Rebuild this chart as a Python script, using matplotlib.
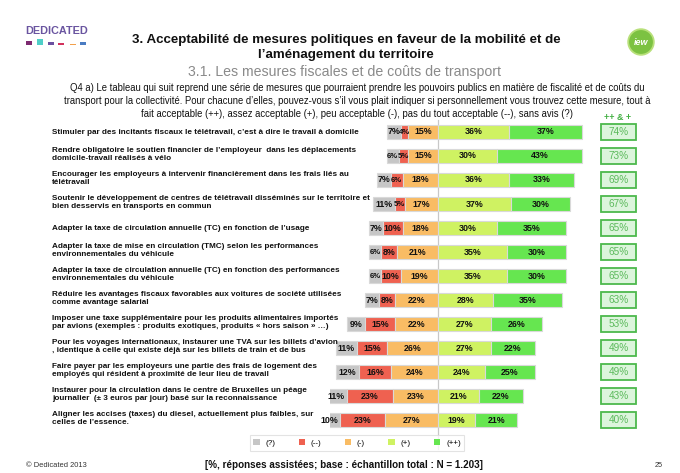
import matplotlib
matplotlib.use("Agg")
import matplotlib.pyplot as plt
from matplotlib.patches import Rectangle, Circle
import numpy as np

W, H = 680, 473

labels = [
    "Stimuler par des incitants fiscaux le télétravail, c’est à dire le travail à domicile",
    "Rendre obligatoire le soutien financier de l’employeur  dans les déplacements\ndomicile-travail réalisés à vélo",
    "Encourager les employeurs à intervenir financièrement dans les frais liés au\ntélétravail",
    "Soutenir le développement de centres de télétravail disséminés sur le territoire et\nbien desservis en transports en commun",
    "Adapter la taxe de circulation annuelle (TC) en fonction de l’usage",
    "Adapter la taxe de mise en circulation (TMC) selon les performances\nenvironnementales du véhicule",
    "Adapter la taxe de circulation annuelle (TC) en fonction des performances\nenvironnementales du véhicule",
    "Réduire les avantages fiscaux favorables aux voitures de société utilisées\ncomme avantage salarial",
    "Imposer une taxe supplémentaire pour les produits alimentaires importés\npar avions (exemples : produits exotiques, produits « hors saison » …)",
    "Pour les voyages internationaux, instaurer une TVA sur les billets d’avion\n, identique à celle qui existe déjà sur les billets de train et de bus",
    "Faire payer par les employeurs une partie des frais de logement des\nemployés qui résident à proximité de leur lieu de travail",
    "Instaurer pour la circulation dans le centre de Bruxelles un péage\njournalier  (± 3 euros par jour) basé sur la reconnaissance",
    "Aligner les accises (taxes) du diesel, actuellement plus faibles, sur\ncelles de l’essence.",
]
sans_avis = [7, 6, 7, 11, 7, 6, 6, 7, 9, 11, 12, 11, 10]
pas_du_tout = [4, 5, 6, 5, 10, 8, 10, 8, 15, 15, 16, 23, 23]
peu = [15, 15, 18, 17, 18, 21, 19, 22, 22, 26, 24, 23, 27]
assez = [36, 30, 36, 37, 30, 35, 35, 28, 27, 27, 24, 21, 19]
tout_a_fait = [37, 43, 33, 30, 35, 30, 30, 35, 26, 22, 25, 22, 21]
totals = [74, 73, 69, 67, 65, 65, 65, 63, 53, 49, 49, 43, 40]
legend_labels = ["(?)", "(--)", "(-)", "(+)", "(++)"]
colors = ["#c6c6c6", "#ef6150", "#f9bc64", "#cff262", "#66e650"]

plt.rcParams['font.family'] = ['Liberation Sans', 'DejaVu Sans']

fig = plt.figure(figsize=(W / 100, H / 100), dpi=100)
fig.patch.set_facecolor("white")

def fx(x):
    return x / W

def fy(y):
    return 1 - y / H

# --- header ---
fig.text(fx(346), fy(40), "3. Acceptabilité de mesures politiques en faveur de la mobilité et de",
         ha="center", va="center", fontsize=9.6, fontweight="bold", color="#111111")
fig.text(fx(346), fy(55), "l’aménagement du territoire",
         ha="center", va="center", fontsize=9.6, fontweight="bold", color="#111111")
fig.text(fx(344), fy(72), "3.1. Les mesures fiscales et de coûts de transport",
         ha="center", va="center", fontsize=10.2, color="#8a8a8a")
q_lines = [
    "Q4 a) Le tableau qui suit reprend une série de mesures que pourraient prendre les pouvoirs publics en matière de fiscalité et de coûts du",
    "transport pour la collectivité. Pour chacune d’elles, pouvez-vous s’il vous plait indiquer si personnellement vous trouvez cette mesure, tout à",
    "fait acceptable (++), assez acceptable (+), peu acceptable (-), pas du tout acceptable (--), sans avis (?)",
]
for i, t in enumerate(q_lines):
    fig.text(fx(357), fy(88 + 13 * i), t, ha="center", va="center", fontsize=6.85, color="#111111")
fig.text(fx(618), fy(117), "++ & +", ha="center", va="center", fontsize=6.4,
         color="#44b044", fontweight="bold")

# DEDICATED logo
fig.text(fx(25), fy(31), "DEDICATED", ha="left", va="center", fontsize=7.8,
         fontweight="bold", color="#6a55a0")
logo_cols = ["#7d2a70", "#4fcfc8", "#6a50a0", "#d2315c", "#f2a04c", "#4a7cc2"]
logo_x = [26, 37, 48, 58, 70, 80]
logo_h = [4, 6, 3, 2, 1, 3]
for c, x, h in zip(logo_cols, logo_x, logo_h):
    fig.patches.append(Rectangle((fx(x), fy(45)), 6 / W, h / H, transform=fig.transFigure,
                                 facecolor=c, edgecolor="none"))

# iew logo
lax = fig.add_axes([fx(627), fy(56), 28 / W, 28 / H])
lax.set_xlim(-1, 1); lax.set_ylim(-1, 1); lax.set_aspect("equal"); lax.axis("off")
lax.add_patch(Circle((0, 0), 0.98, facecolor="#b8e07a", edgecolor="none"))
lax.add_patch(Circle((0, 0), 0.85, facecolor="#7cc242", edgecolor="none"))
lax.text(0, -0.02, "iew", ha="center", va="center", fontsize=6.5, fontweight="bold",
         fontstyle="italic", color="white")

# --- bars ---
px_per = 1.97
cx = 438
ax_left, ax_right = 330, 642
ax_top, ax_bot = 120, 432
ax = fig.add_axes([fx(ax_left), fy(ax_bot), (ax_right - ax_left) / W, (ax_bot - ax_top) / H])
ax.set_xlim(-(cx - ax_left) / px_per, (ax_right - cx) / px_per)
n = len(labels)
ax.set_ylim(n - 0.5, -0.5)
ax.axis("off")

y = np.arange(n)
sa = np.array(sans_avis); pdt = np.array(pas_du_tout); pe = np.array(peu)
asz = np.array(assez); taf = np.array(tout_a_fait)
bh = 0.6
segs = [
    (-(pe + pdt + sa), sa),
    (-(pe + pdt), pdt),
    (-pe, pe),
    (np.zeros(n), asz),
    (asz, taf),
]
handles = []
for (left, width), col, lab in zip(segs, colors, legend_labels):
    b = ax.barh(y, width, left=left, height=bh, color=col, edgecolor="#d9d9d9",
                linewidth=0.8, label=lab, zorder=2)
    handles.append(b)
    for yi, l, w in zip(y, left, width):
        ax.text(l + w / 2, yi, f"{w}%", ha="center", va="center",
                fontsize=6.4 if w > 6 else 5.6,
                fontweight="bold", color="#111111", zorder=4)

ax.plot([0, 0], [-0.5, 13.2], color="#c8c8c8", linewidth=0.9, zorder=1, clip_on=False)

# totals boxes
bx0 = (601 - cx) / px_per
bx1 = (636 - cx) / px_per
for yi, t in zip(y, totals):
    ax.add_patch(Rectangle((bx0, yi - 0.35), bx1 - bx0, 0.7, facecolor="#dcf5dc",
                           edgecolor="#4cb94c", linewidth=1.3, zorder=2))
    ax.text((bx0 + bx1) / 2, yi, f"{t}%", ha="center", va="center", fontsize=7.2,
            color="#5cba5c", zorder=3)

# row labels
for yi, lab in zip(y, labels):
    fig.text(fx(52), fy(132 + 24 * yi - (1.5 if "\n" in lab else 0)), lab, ha="left",
             va="center", fontsize=5.85, fontweight="bold", color="#111111", linespacing=1.1)

leg = ax.legend(handles=handles, labels=legend_labels, ncol=5, loc="center",
                bbox_to_anchor=((357 - ax_left) / (ax_right - ax_left), 1 - (443 - ax_top) / (ax_bot - ax_top)),
                fontsize=5.8, frameon=True, handlelength=0.8, handleheight=0.8,
                columnspacing=2.9, handletextpad=0.7, borderpad=0.45, fancybox=False)
leg.get_frame().set_edgecolor("#dddddd")
leg.get_frame().set_linewidth(0.8)
for h in leg.legend_handles:
    h.set_edgecolor("none")

# footer
fig.text(fx(26), fy(465), "© Dedicated 2013", ha="left", va="center", fontsize=5.4, color="#333333")
fig.text(fx(344), fy(465), "[%, réponses assistées; base : échantillon total : N = 1.203]",
         ha="center", va="center", fontsize=7.1, fontweight="bold", color="#111111")
fig.text(fx(659), fy(465), "25", ha="center", va="center", fontsize=5.2, color="#333333")

fig.savefig("out.png", dpi=100, facecolor="white")
